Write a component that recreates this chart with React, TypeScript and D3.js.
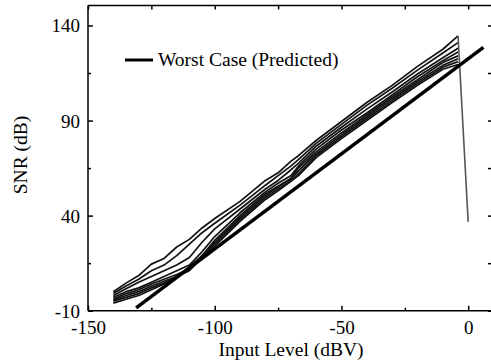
import React, { useEffect, useRef } from "react";
import * as d3 from "d3";

// Input level (dBV) sample points shared by the measured curves
const inputLevels = [-140, -135, -130, -125, -120, -115, -110, -105, -100, -90, -80, -75, -70, -67, -60, -50, -40, -30, -20, -10, -4];

// Measured SNR curves (dB)
const curveA = [0, 4.5, 8.5, 14.5, 17.5, 23.5, 27.5, 33.5, 38.5, 47.5, 58.5, 62.5, 68.5, 71.5, 79.5, 89.5, 99.5, 108.5, 118.5, 127.5, 134.5];
const curveB = [-1, 3, 6.5, 11, 14, 19, 25, 31, 36, 45.5, 56, 61, 66, 69.5, 78, 88, 98, 107, 116.5, 125.5, 131];
const curveC = [-2, 1.5, 5, 8, 11, 14, 18, 26, 33, 43.5, 54, 58.5, 64, 67.5, 76.5, 86.5, 96, 105, 114.5, 123, 128];
const curveD = [-3, 0, 2, 5, 8, 11, 14, 21, 29, 41.5, 52.5, 57, 61, 66, 75, 85, 94, 103.5, 113, 121.5, 126];
const curveE = [-4, -1, 1, 4, 6.5, 9, 12, 19, 27, 40, 51.5, 55.5, 59.5, 65, 73.5, 83.5, 93, 102.5, 111.5, 120.5, 124];
const curveF = [-4.5, -2, 0, 3, 5.5, 8, 11, 18, 26, 39, 50.5, 55, 59, 63.5, 72.5, 82.5, 92, 101.5, 110.5, 119, 122.5];
const curveG = [-5, -3, -1, 2, 4.5, 7.5, 13, 19, 25, 38, 49.5, 54, 58, 62, 71.5, 81.5, 91, 100.5, 109.5, 118, 121];
const curveH = [-6, -4, -2, 1, 4, 8, 13, 18, 24, 37, 48.5, 53, 58, 61, 70.5, 80.5, 90, 99.5, 108.5, 117, 119.5];
const measuredCurves = [curveA, curveB, curveC, curveD, curveE, curveF, curveG, curveH];

// Clipping drop of the top curve
const clipX = [-4, 0];
const clipY = [134.5, 36.7];

// Worst case (predicted)
const worstX = [-131, 6];
const worstY = [-8.5, 128.5];

const xMajorTicks = [-150, -100, -50, 0];
const xMinorTicks = [-125, -75, -25];
const yMajorTicks = [-10, 40, 90, 140];
const yMinorTicks = [15, 65, 115];

const W = 491;
const H = 362;
const left = 88;
const right = 492;
const top = 5.5;
const bottom = 310.7;
const FONT = "'Liberation Serif', 'Times New Roman', serif";

export default function App() {
  const axRef = useRef<SVGGElement>(null);

  const x = d3.scaleLinear().domain([-150, 9]).range([left, 491]);
  const y = d3.scaleLinear().domain([-10, 150.5]).range([bottom, top]);

  const line = d3
    .line<[number, number]>()
    .x((d) => x(d[0]))
    .y((d) => y(d[1]));

  useEffect(() => {
    const g = d3.select(axRef.current);
    g.selectAll("*").remove();
    const fmt = (d: d3.NumberValue) => String(d);

    const bx = g.append("g").attr("transform", `translate(0,${bottom})`)
      .call(d3.axisBottom(x).tickValues(xMajorTicks).tickSize(-5).tickPadding(10).tickFormat(fmt));
    g.append("g").attr("transform", `translate(0,${bottom})`)
      .call(d3.axisBottom(x).tickValues(xMinorTicks).tickSize(-3).tickFormat(() => ""));
    g.append("g").attr("transform", `translate(0,${top})`)
      .call(d3.axisTop(x).tickValues([...xMajorTicks, ...xMinorTicks]).tickSize(-4).tickFormat(() => ""));
    const ly = g.append("g").attr("transform", `translate(${left},0)`)
      .call(d3.axisLeft(y).tickValues(yMajorTicks).tickSize(-5).tickPadding(8).tickFormat(fmt));
    g.append("g").attr("transform", `translate(${left},0)`)
      .call(d3.axisLeft(y).tickValues(yMinorTicks).tickSize(-3).tickFormat(() => ""));
    g.append("g").attr("transform", `translate(${right},0)`)
      .call(d3.axisRight(y).tickValues([...yMajorTicks, ...yMinorTicks]).tickSize(-4).tickFormat(() => ""));

    g.selectAll(".domain").remove();
    g.selectAll(".tick line").attr("stroke", "#000").attr("stroke-width", 1.5);
    g.selectAll("text")
      .attr("font-family", FONT)
      .attr("font-size", 19)
      .attr("fill", "#000");
    bx.selectAll("text").attr("dy", "0.71em");
    ly.selectAll("text").attr("dy", "0.34em");
  }, []);

  return (
    <svg
      width={W}
      height={H}
      style={{ position: "absolute", left: 0, top: 0, background: "#fff" }}
    >
      <rect x={0} y={0} width={W} height={H} fill="#fff" />
      {/* frame */}
      <line x1={left} x2={right} y1={top} y2={top} stroke="#000" strokeWidth={1.5} />
      <line x1={left} x2={right} y1={bottom} y2={bottom} stroke="#000" strokeWidth={1.5} />
      <line x1={left} x2={left} y1={top} y2={bottom} stroke="#000" strokeWidth={1.5} />
      <line x1={right} x2={right} y1={top} y2={bottom} stroke="#000" strokeWidth={1.5} />
      <g ref={axRef} />

      {/* measured curves */}
      {measuredCurves.map((vals, i) => (
        <path
          key={i}
          d={line(inputLevels.map((lv, j) => [lv, vals[j]] as [number, number])) || ""}
          fill="none"
          stroke="#111"
          strokeWidth={1.7}
          strokeLinejoin="round"
        />
      ))}
      <path
        d={line(clipX.map((v, j) => [v, clipY[j]] as [number, number])) || ""}
        fill="none"
        stroke="#555"
        strokeWidth={1.6}
      />
      {/* worst case */}
      <path
        d={line(worstX.map((v, j) => [v, worstY[j]] as [number, number])) || ""}
        fill="none"
        stroke="#000"
        strokeWidth={3.5}
      />

      {/* legend */}
      <line x1={125} x2={153} y1={60} y2={60} stroke="#000" strokeWidth={3} />
      <text x={158} y={66} fontFamily={FONT} fontSize={19.5} fill="#000">
        Worst Case (Predicted)
      </text>

      {/* axis labels */}
      <text x={291} y={356} textAnchor="middle" fontFamily={FONT} fontSize={19.5} fill="#000">
        Input Level (dBV)
      </text>
      <text
        transform={`translate(27,155) rotate(-90)`}
        textAnchor="middle"
        fontFamily={FONT}
        fontSize={19.5}
        fill="#000"
      >
        SNR (dB)
      </text>
    </svg>
  );
}
